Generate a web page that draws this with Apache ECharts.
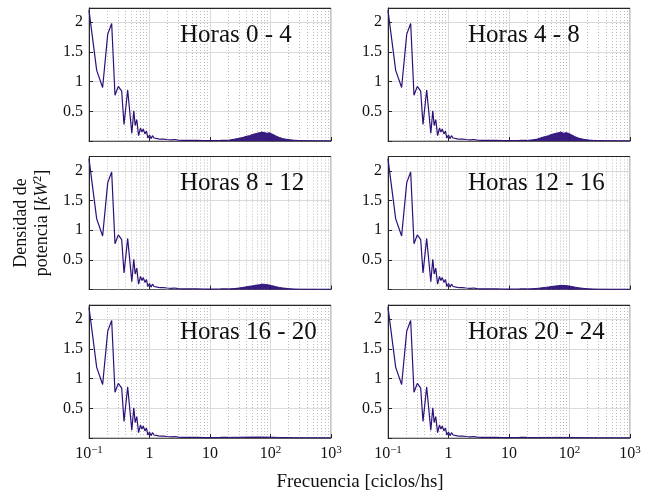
<!DOCTYPE html>
<html><head><meta charset="utf-8">
<script src="https://cdn.jsdelivr.net/npm/echarts@6/dist/echarts.min.js"></script>
<style>html,body{margin:0;padding:0;background:#fff}#c{width:655px;height:495px}</style>
</head><body><div id="c"></div>
<script>
// ---------- data ----------
const panelTitles = ['Horas 0 - 4', 'Horas 4 - 8', 'Horas 8 - 12', 'Horas 12 - 16', 'Horas 16 - 20', 'Horas 20 - 24'];
const xTicks = [0.1, 1, 10, 100, 1000];
const xTickBase = ['10', '1', '10', '10', '10'];
const xTickExp = ['\u22121', '', '', '2', '3'];
const yTicks = [0.5, 1, 1.5, 2];
const xMinorGrid = [0.2,0.3,0.4,0.5,0.6,0.7,0.8,0.9, 2,3,4,5,6,7,8,9, 20,30,40,50,60,70,80,90, 200,300,400,500,600,700,800,900];

// low-frequency part (same in every panel)
const freqLow = [0.1, 0.134, 0.168, 0.204, 0.237, 0.269, 0.305, 0.347, 0.379, 0.436, 0.51, 0.55, 0.58, 0.616, 0.66, 0.71, 0.75, 0.79, 0.84, 0.89, 0.94, 1.0, 1.06, 1.12, 1.19, 1.26, 1.34, 1.42, 1.5, 1.6, 1.7, 1.82, 1.95, 2.1, 2.3, 2.6, 3.0, 3.6, 4.5, 6, 8, 11, 15, 20];
const densLow = [2.2, 1.19, 0.9, 1.8, 1.98, 0.77, 0.92, 0.84, 0.28, 0.86, 0.13, 0.51, 0.26, 0.36, 0.09, 0.22, 0.15, 0.2, 0.12, 0.17, 0.05, 0.1, 0.04, 0.09, 0.05, 0.08, 0.04, 0.07, 0.03, 0.06, 0.03, 0.05, 0.025, 0.035, 0.02, 0.025, 0.015, 0.012, 0.01, 0.01, 0.008, 0.008, 0.01, 0.012];

// high-frequency hump (dense band envelope)
const freqHump = [20, 25, 30, 35, 40, 45, 50, 55, 60, 66, 72, 80, 88, 96, 105, 115, 125, 140, 160, 180, 210, 250, 300, 400, 600, 1000];
const hump0to4   = [0.012, 0.03, 0.045, 0.06, 0.08, 0.09, 0.11, 0.12, 0.13, 0.14, 0.15, 0.14, 0.13, 0.14, 0.12, 0.10, 0.08, 0.06, 0.04, 0.03, 0.02, 0.012, 0.008, 0.006, 0.005, 0.004];
const hump4to8   = [0.01, 0.02, 0.035, 0.06, 0.075, 0.09, 0.11, 0.12, 0.13, 0.14, 0.15, 0.13, 0.14, 0.13, 0.11, 0.09, 0.07, 0.05, 0.035, 0.025, 0.015, 0.01, 0.008, 0.006, 0.005, 0.004];
const hump8to12  = [0.01, 0.015, 0.025, 0.035, 0.045, 0.055, 0.06, 0.07, 0.075, 0.08, 0.09, 0.085, 0.08, 0.075, 0.065, 0.055, 0.045, 0.035, 0.025, 0.02, 0.012, 0.008, 0.006, 0.005, 0.004, 0.004];
const hump12to16 = [0.01, 0.014, 0.02, 0.028, 0.035, 0.042, 0.05, 0.055, 0.06, 0.065, 0.07, 0.068, 0.065, 0.06, 0.052, 0.045, 0.038, 0.03, 0.022, 0.016, 0.011, 0.008, 0.006, 0.005, 0.004, 0.004];
const hump16to20 = [0.01, 0.012, 0.012, 0.014, 0.015, 0.015, 0.016, 0.016, 0.017, 0.016, 0.016, 0.015, 0.015, 0.014, 0.013, 0.012, 0.01, 0.009, 0.008, 0.007, 0.006, 0.005, 0.005, 0.004, 0.004, 0.004];
const hump20to24 = [0.008, 0.008, 0.009, 0.009, 0.01, 0.01, 0.01, 0.01, 0.011, 0.011, 0.011, 0.01, 0.01, 0.01, 0.009, 0.009, 0.008, 0.007, 0.006, 0.006, 0.005, 0.005, 0.004, 0.004, 0.004, 0.004];
const humps = [hump0to4, hump4to8, hump8to12, hump12to16, hump16to20, hump20to24];

// ---------- layout ----------
const colLeft = [89, 388];
const rowTop = [8, 156.5, 305];
const gW = 242, gH = 133;
const yMax = 2.24;
const lineColor = '#2d1078';
const FONT = '"Liberation Serif", "DejaVu Serif", serif';
const titleX = [180, 468];

const grids = [], xAxes = [], yAxes = [], series = [], graphics = [];
for (let i = 0; i < 6; i++) {
  const r = Math.floor(i / 2), c = i % 2;
  grids.push({left: colLeft[c], top: rowTop[r], width: gW, height: gH, show: true, borderColor: '#8c8c8c', borderWidth: 1, backgroundColor: 'transparent'});
  xAxes.push({
    type: 'log', logBase: 10, min: 0.1, max: 1000, gridIndex: i,
    axisLine: {show: true, onZero: false, lineStyle: {color: '#595959', width: 1}},
    axisTick: {show: true, inside: true, length: 4, lineStyle: {color: '#262626'}},
    splitLine: {show: true, lineStyle: {color: '#dadada', width: 1}},
    axisLabel: {
      show: r === 2, margin: 7, color: '#111', fontFamily: FONT, fontSize: 16,
      formatter: v => {
        const k = xTicks.findIndex(t => Math.abs(Math.log10(t) - Math.log10(v)) < 1e-6);
        if (k < 0) return '';
        return '{b|' + xTickBase[k] + '}' + (xTickExp[k] ? '{s|' + xTickExp[k] + '}' : '');
      },
      rich: {
        b: {fontFamily: FONT, fontSize: 16, color: '#111', lineHeight: 18},
        s: {fontFamily: FONT, fontSize: 11, color: '#111', verticalAlign: 'top', lineHeight: 10}
      }
    }
  });
  yAxes.push({
    type: 'value', min: 0, max: yMax, interval: 0.5, gridIndex: i,
    axisLine: {show: true, onZero: false, lineStyle: {color: '#262626', width: 1}},
    axisTick: {show: true, inside: true, length: 4, lineStyle: {color: '#262626'}},
    splitLine: {show: true, lineStyle: {color: '#dadada', width: 1}},
    axisLabel: {
      margin: 6, color: '#111', fontFamily: FONT, fontSize: 16,
      formatter: v => yTicks.some(t => Math.abs(t - v) < 1e-9) ? String(v) : ''
    }
  });
  // minor grid (dotted) + top frame line
  series.push({
    type: 'line', xAxisIndex: i, yAxisIndex: i, data: [], silent: true, z: 1,
    markLine: {
      silent: true, symbol: 'none', z: 1, animation: false,
      label: {show: false},
      lineStyle: {type: [1, 2], color: '#bdbdbd', width: 1},
      data: xMinorGrid.map(v => ({xAxis: v}))
        .concat([{yAxis: yMax, lineStyle: {type: 'solid', color: '#262626', width: 1}}])
    }
  });
  series.push({
    type: 'line', xAxisIndex: i, yAxisIndex: i, symbol: 'none', z: 3,
    lineStyle: {color: lineColor, width: 1.2}, animation: false,
    data: freqLow.map((f, k) => [f, densLow[k]])
  });
  series.push({
    type: 'line', xAxisIndex: i, yAxisIndex: i, symbol: 'none', z: 3,
    lineStyle: {color: lineColor, width: 1}, animation: false,
    areaStyle: {color: lineColor, opacity: 0.95},
    data: freqHump.map((f, k) => [f, humps[i][k]])
  });
  graphics.push({
    type: 'text', x: titleX[c], y: rowTop[r] + 27, z: 10,
    style: {text: panelTitles[i], fontFamily: FONT, fontSize: 25, fill: '#111', verticalAlign: 'middle', align: 'left'}
  });
}
graphics.push({
  type: 'text', x: 360, y: 482,
  style: {text: 'Frecuencia [ciclos/hs]', fontFamily: FONT, fontSize: 19, fill: '#111', align: 'center', verticalAlign: 'middle'}
});
graphics.push({
  type: 'text', x: 32, y: 223, rotation: Math.PI / 2,
  style: {
    text: 'Densidad de\npotencia [{i|kW}{s|2}]', fontFamily: FONT, fontSize: 18, fill: '#111',
    align: 'center', verticalAlign: 'middle', lineHeight: 21,
    rich: {
      i: {fontFamily: FONT, fontSize: 18, fontStyle: 'italic', fill: '#111', lineHeight: 21},
      s: {fontFamily: FONT, fontSize: 12, fill: '#111', verticalAlign: 'top', lineHeight: 12}
    }
  }
});

const chart = echarts.init(document.getElementById('c'), null, {renderer: 'canvas'});
chart.setOption({
  animation: false, backgroundColor: '#fff',
  grid: grids, xAxis: xAxes, yAxis: yAxes, series: series, graphic: graphics
});
</script></body></html>
